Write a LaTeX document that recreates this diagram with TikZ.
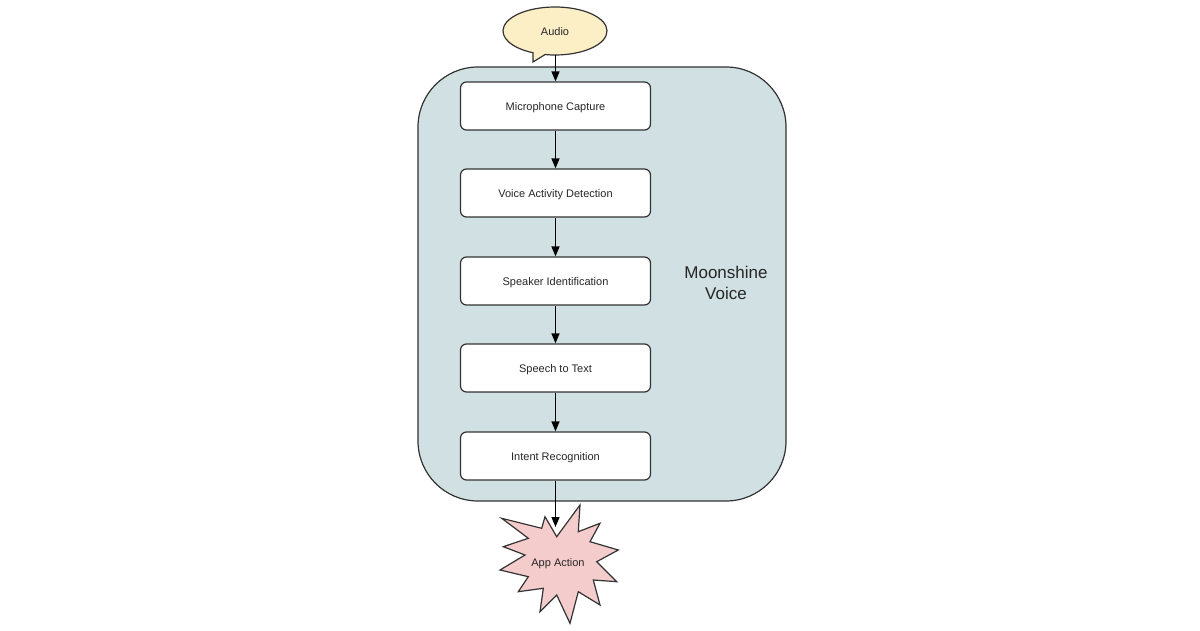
\documentclass[tikz,border=0pt]{standalone}
\usepackage{fontspec}
\setmainfont{Liberation Sans}
\usetikzlibrary{arrows.meta,shapes.geometric}
\definecolor{contfill}{HTML}{D0E0E3}
\definecolor{audiofill}{HTML}{FCEFC6}
\definecolor{starfill}{HTML}{F4CCCC}
\definecolor{edge}{HTML}{333333}
\tikzset{
  lbl/.style={font=\fontsize{11}{13}\selectfont, text=black!85, text height=10pt, text depth=1pt},
  stepbox/.style={lbl, draw=edge, line width=1.2pt, fill=white, rounded corners=6pt,
    minimum width=190pt, minimum height=48pt, inner sep=0pt},
  flow/.style={-{Triangle[length=10pt,width=8pt]}, line width=1.4pt, black},
}
\begin{document}
\begin{tikzpicture}[x=1pt,y=1pt]
\useasboundingbox (0,0) rectangle (1200,630);
\fill[white] (0,0) rectangle (1200,630);
% container
\node[draw=edge, line width=1.2pt, fill=contfill, rounded corners=60pt,
  minimum width=368pt, minimum height=434pt, inner sep=0pt] (container) at (602,346) {};
\node[font=\fontsize{17}{21}\selectfont, align=center, text=black!85] (label) at (726,347) {Moonshine\\Voice};
% audio bubble
\path[draw=edge, line width=1.2pt, fill=audiofill]
  (555,599) ++(259:52pt and 24pt) arc[start angle=259, end angle=605, x radius=52, y radius=24]
  -- (533,568) -- cycle;
\node[lbl, ellipse, minimum width=104pt, minimum height=48pt, inner sep=0pt] (audio) at (555,599) {Audio};
% steps
\node[stepbox] (mic) at (555.5,524) {Microphone Capture};
\node[stepbox] (vad) at (555.5,437) {Voice Activity Detection};
\node[stepbox] (spk) at (555.5,349) {Speaker Identification};
\node[stepbox] (stt) at (555.5,262) {Speech to Text};
\node[stepbox] (intent) at (555.5,174) {Intent Recognition};
% star
\path[draw=edge, line width=1.2pt, fill=starfill, line join=miter]
  (501.7,111.7) -- (541.7,101.7) -- (545,113.3) -- (556.7,93.3) -- (580,125)
  -- (578.3,98.3) -- (600,106.7) -- (590,88.3) -- (618.3,80) -- (596.7,68.3)
  -- (616.7,48.3) -- (593.3,50) -- (600,25) -- (578.3,38.3) -- (570,6.7)
  -- (556.7,35) -- (540,18.3) -- (543.3,41.7) -- (518.3,38.3) -- (528.3,53.3)
  -- (500,60) -- (525,75) -- (503.3,83.3) -- (528.3,91.7) -- cycle;
\node[lbl] (action) at (558,68) {App Action};
\coordinate (actiontop) at (555.5,103);
% connectors
\draw[flow] (555.5,575) -- (mic.north);
\draw[flow] (mic) -- (vad);
\draw[flow] (vad) -- (spk);
\draw[flow] (spk) -- (stt);
\draw[flow] (stt) -- (intent);
\draw[flow] (intent.south) -- (actiontop);
\end{tikzpicture}
\end{document}
